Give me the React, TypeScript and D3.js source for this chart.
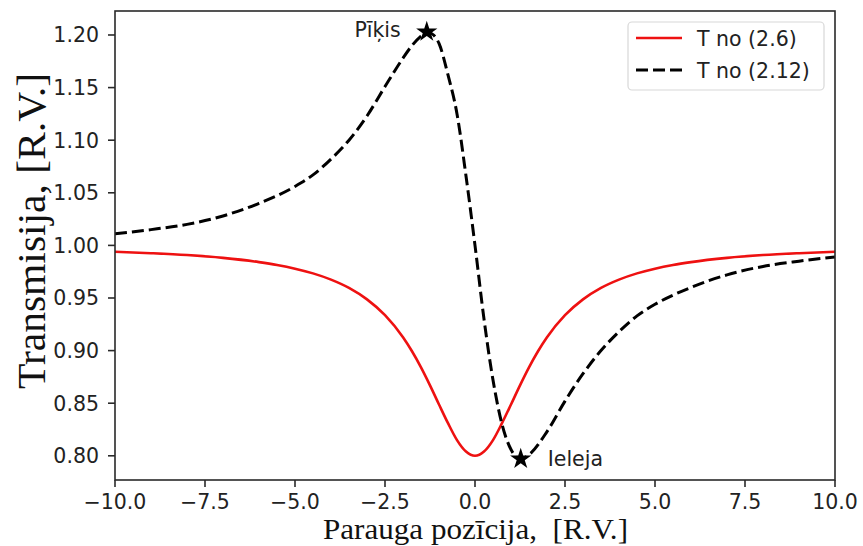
import React from "react";
import * as d3 from "d3";

const xRed = [-10, -9, -8, -7, -6, -5.5, -5, -4.5, -4, -3.5, -3, -2.5, -2, -1.75, -1.5, -1.25, -1, -0.75, -0.5, -0.25, 0,
  0.25, 0.5, 0.75, 1, 1.25, 1.5, 1.75, 2, 2.5, 3, 3.5, 4, 4.5, 5, 5.5, 6, 7, 8, 9, 10];
const tRed = [0.994, 0.9926, 0.9908, 0.9881, 0.9841, 0.9814, 0.9779, 0.9734, 0.9675, 0.9596, 0.9487, 0.9337, 0.9127, 0.8994, 0.8841, 0.867, 0.8488, 0.831, 0.8149, 0.804, 0.8,
  0.804, 0.8149, 0.831, 0.8488, 0.867, 0.8841, 0.8994, 0.9127, 0.9337, 0.9487, 0.9596, 0.9675, 0.9734, 0.9779, 0.9814, 0.9841, 0.9881, 0.9908, 0.9926, 0.994];

const xDash = [-10, -9, -8, -7, -6, -5, -4.5, -4, -3.5, -3, -2.5, -2, -1.75, -1.5, -1.34, -1.15, -1, -0.75, -0.5, -0.25, 0,
  0.25, 0.5, 0.75, 1, 1.27, 1.5, 2, 2.5, 3, 3.5, 4, 4.5, 5, 6, 7, 8, 9, 10];
const tDash = [1.011, 1.015, 1.02, 1.028, 1.04, 1.056, 1.067, 1.082, 1.1, 1.123, 1.151, 1.178, 1.19, 1.199, 1.203, 1.2, 1.192, 1.162, 1.125, 1.066, 1.0,
  0.93, 0.872, 0.83, 0.806, 0.797, 0.801, 0.823, 0.852, 0.878, 0.9, 0.918, 0.933, 0.944, 0.96, 0.972, 0.98, 0.985, 0.989];

const markX = [-1.34, 1.27];
const markT = [1.203, 0.797];
const markLabels = ["Pīķis", "Ieleja"];

const xTicks = [-10, -7.5, -5, -2.5, 0, 2.5, 5, 7.5, 10];
const yTicks = [0.8, 0.85, 0.9, 0.95, 1.0, 1.05, 1.1, 1.15, 1.2];
const legendLabels = ["T no (2.6)", "T no (2.12)"];

const W = 863, H = 546;
const M = { left: 115, right: 835, top: 11, bottom: 480 };

export default function App() {
  const x = d3.scaleLinear().domain([-10, 10]).range([M.left, M.right]);
  const y = d3.scaleLinear().domain([0.777, 1.2228]).range([M.bottom, M.top]);
  const line = d3.line<number>().curve(d3.curveMonotoneX);
  const redPath = line(xRed.map((v, i) => [x(v), y(tRed[i])] as [number, number]));
  const dashPath = line(xDash.map((v, i) => [x(v), y(tDash[i])] as [number, number]));
  const star = d3.symbol().type(d3.symbolStar).size(140)();
  const tickFont = "DejaVu Sans";
  const fmtMinus = (s: string) => s.replace("-", "\u2212");
  const axisColor = "#2a2a2a";

  return (
    <svg width={W} height={H} style={{ position: "absolute", left: 0, top: 0, background: "#fff" }}>
      <rect x={0} y={0} width={W} height={H} fill="#fff" />
      <defs>
        <clipPath id="clip">
          <rect x={M.left} y={M.top} width={M.right - M.left} height={M.bottom - M.top} />
        </clipPath>
      </defs>
      <g clipPath="url(#clip)">
        <path d={redPath || ""} fill="none" stroke="#ee1111" strokeWidth={2.6} />
        <path d={dashPath || ""} fill="none" stroke="#000" strokeWidth={3} strokeDasharray="12,5" />
      </g>
      {markX.map((mx, i) => (
        <path key={i} d={star || ""} transform={`translate(${x(mx)},${y(markT[i])})`} fill="#000" />
      ))}
      <text x={x(markX[0]) - 26} y={y(markT[0]) + 5} textAnchor="end" fontFamily={tickFont} fontSize={20.5} fill="#222">{markLabels[0]}</text>
      <text x={x(markX[1]) + 27} y={y(markT[1]) + 7} textAnchor="start" fontFamily={tickFont} fontSize={20.5} fill="#222">{markLabels[1]}</text>

      {/* frame */}
      <rect x={M.left} y={M.top} width={M.right - M.left} height={M.bottom - M.top} fill="none" stroke={axisColor} strokeWidth={1.6} />

      {xTicks.map((t) => (
        <g key={t}>
          <line x1={x(t)} x2={x(t)} y1={M.bottom} y2={M.bottom + 7} stroke={axisColor} strokeWidth={1.6} />
          <text x={x(t)} y={M.bottom + 28.5} textAnchor="middle" fontFamily={tickFont} fontSize={20.5} fill="#222">{fmtMinus(t.toFixed(1))}</text>
        </g>
      ))}
      {yTicks.map((t) => (
        <g key={t}>
          <line x1={M.left - 7} x2={M.left} y1={y(t)} y2={y(t)} stroke={axisColor} strokeWidth={1.6} />
          <text x={M.left - 16} y={y(t) + 7.5} textAnchor="end" fontFamily={tickFont} fontSize={20.5} fill="#222">{t.toFixed(2)}</text>
        </g>
      ))}

      {/* axis labels */}
      <text x={323} y={538.5} fontFamily="Liberation Serif" fontSize={30} textLength={305} lengthAdjust="spacingAndGlyphs" fill="#111" style={{ whiteSpace: "pre" }}>{"Parauga pozīcija,  [R.V.]"}</text>
      <text transform="translate(45,231) rotate(-90)" textAnchor="middle" fontFamily="Liberation Serif" fontSize={40} textLength={316} lengthAdjust="spacingAndGlyphs" fill="#111">{"Transmisija, [R.V.]"}</text>

      {/* legend */}
      <rect x={628} y={22} width={196} height={68} rx={4} fill="#fff" fillOpacity={0.8} stroke="#d8d8d8" strokeWidth={1.2} />
      <line x1={636} x2={682} y1={38} y2={38} stroke="#ee1111" strokeWidth={2.6} />
      <line x1={636} x2={682} y1={70} y2={70} stroke="#000" strokeWidth={3} strokeDasharray="12,5" />
      <text x={697} y={45.5} fontFamily={tickFont} fontSize={20.5} fill="#222">{legendLabels[0]}</text>
      <text x={697} y={77.5} fontFamily={tickFont} fontSize={20.5} fill="#222">{legendLabels[1]}</text>
    </svg>
  );
}
